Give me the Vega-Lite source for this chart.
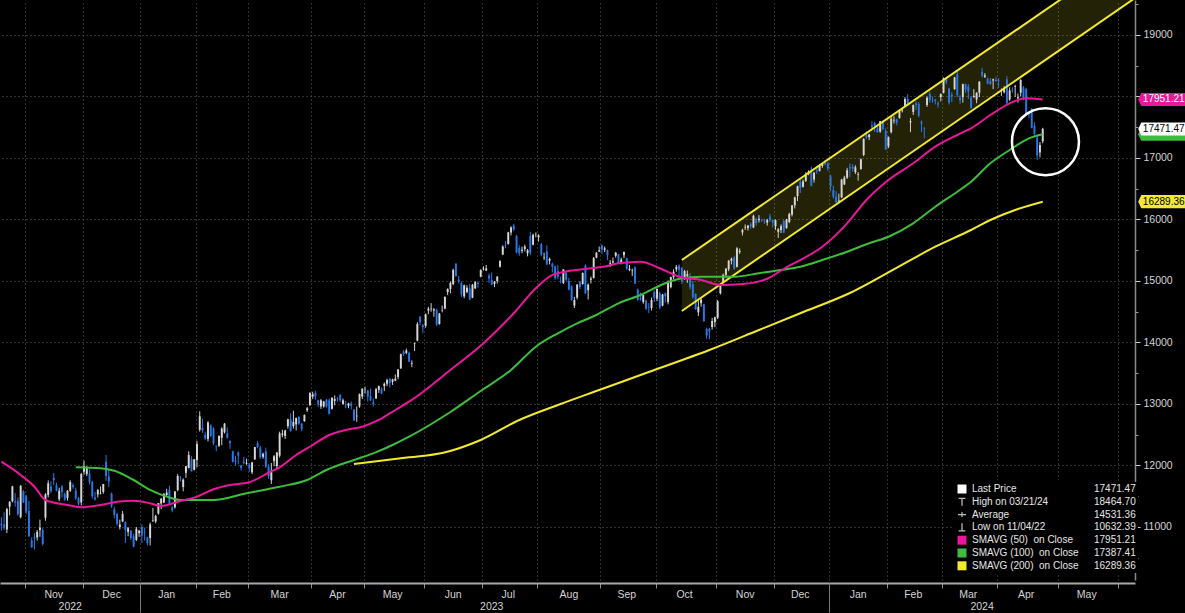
{
"$schema":"https://vega.github.io/schema/vega-lite/v6.json",
"width":1135,"height":580,
"autosize":{"type":"none"},
"padding":{"left":0,"top":0,"right":50,"bottom":33},
"background":"#000000",
"config":{"view":{"stroke":null}},
"datasets":{
"ohlc":[
{"d":"2022-10-19","o":11050,"h":11160,"l":10940,"c":11030},{"d":"2022-10-20","o":11040,"h":11240,"l":10950,"c":10990},{"d":"2022-10-21","o":10960,"h":11310,"l":10900,"c":11290},{"d":"2022-10-24","o":11330,"h":11420,"l":11190,"c":11410},{"d":"2022-10-25","o":11420,"h":11670,"l":11400,"c":11660},{"d":"2022-10-26","o":11420,"h":11550,"l":11330,"c":11400},{"d":"2022-10-27","o":11420,"h":11480,"l":11180,"c":11210},{"d":"2022-10-28","o":11160,"h":11680,"l":11140,"c":11670},{"d":"2022-10-31","o":11580,"h":11600,"l":11390,"c":11400},
{"d":"2022-11-01","o":11500,"h":11520,"l":11210,"c":11250},{"d":"2022-11-02","o":11260,"h":11420,"l":10840,"c":10850},{"d":"2022-11-03","o":10780,"h":10830,"l":10660,"c":10670},{"d":"2022-11-04","o":10830,"h":10900,"l":10632.39,"c":10810},{"d":"2022-11-07","o":10830,"h":10950,"l":10780,"c":10920},{"d":"2022-11-08","o":10950,"h":11120,"l":10840,"c":10990},{"d":"2022-11-09","o":10950,"h":10980,"l":10700,"c":10720},{"d":"2022-11-10","o":11150,"h":11550,"l":11100,"c":11530},{"d":"2022-11-11","o":11520,"h":11760,"l":11480,"c":11710},{"d":"2022-11-14","o":11660,"h":11740,"l":11550,"c":11580},{"d":"2022-11-15","o":11800,"h":11880,"l":11680,"c":11760},{"d":"2022-11-16","o":11680,"h":11720,"l":11580,"c":11590},{"d":"2022-11-17","o":11450,"h":11640,"l":11420,"c":11590},{"d":"2022-11-18","o":11660,"h":11680,"l":11480,"c":11570},{"d":"2022-11-21","o":11540,"h":11560,"l":11420,"c":11450},{"d":"2022-11-22","o":11470,"h":11600,"l":11430,"c":11590},{"d":"2022-11-23","o":11590,"h":11760,"l":11570,"c":11730},{"d":"2022-11-25","o":11680,"h":11710,"l":11620,"c":11650},{"d":"2022-11-28","o":11590,"h":11640,"l":11440,"c":11470},{"d":"2022-11-29","o":11470,"h":11490,"l":11350,"c":11380},{"d":"2022-11-30","o":11400,"h":11880,"l":11350,"c":11860},
{"d":"2022-12-01","o":11900,"h":12080,"l":11850,"c":11990},{"d":"2022-12-02","o":11860,"h":11990,"l":11830,"c":11960},{"d":"2022-12-05","o":11870,"h":11940,"l":11690,"c":11730},{"d":"2022-12-06","o":11730,"h":11750,"l":11460,"c":11500},{"d":"2022-12-07","o":11480,"h":11570,"l":11430,"c":11450},{"d":"2022-12-08","o":11530,"h":11620,"l":11480,"c":11600},{"d":"2022-12-09","o":11540,"h":11660,"l":11530,"c":11550},{"d":"2022-12-12","o":11570,"h":11700,"l":11540,"c":11700},{"d":"2022-12-13","o":12060,"h":12170,"l":11750,"c":11830},{"d":"2022-12-14","o":11820,"h":11940,"l":11650,"c":11740},{"d":"2022-12-15","o":11540,"h":11560,"l":11310,"c":11340},{"d":"2022-12-16","o":11290,"h":11330,"l":11140,"c":11200},{"d":"2022-12-19","o":11210,"h":11230,"l":11020,"c":11050},{"d":"2022-12-20","o":11000,"h":11120,"l":10960,"c":11040},{"d":"2022-12-21","o":11090,"h":11260,"l":11080,"c":11210},{"d":"2022-12-22","o":11080,"h":11090,"l":10740,"c":10950},{"d":"2022-12-23","o":10920,"h":11000,"l":10850,"c":10980},{"d":"2022-12-27","o":10940,"h":10950,"l":10790,"c":10820},{"d":"2022-12-28","o":10850,"h":10890,"l":10670,"c":10680},{"d":"2022-12-29","o":10790,"h":11000,"l":10770,"c":10970},{"d":"2022-12-30","o":10900,"h":10950,"l":10840,"c":10940},
{"d":"2023-01-03","o":11000,"h":11040,"l":10740,"c":10860},{"d":"2023-01-04","o":10920,"h":10990,"l":10780,"c":10910},{"d":"2023-01-05","o":10830,"h":10840,"l":10700,"c":10740},{"d":"2023-01-06","o":10820,"h":11070,"l":10700,"c":11040},{"d":"2023-01-09","o":11100,"h":11310,"l":11080,"c":11110},{"d":"2023-01-10","o":11090,"h":11200,"l":11060,"c":11180},{"d":"2023-01-11","o":11220,"h":11390,"l":11200,"c":11390},{"d":"2023-01-12","o":11380,"h":11470,"l":11290,"c":11460},{"d":"2023-01-13","o":11400,"h":11550,"l":11390,"c":11540},{"d":"2023-01-17","o":11520,"h":11620,"l":11500,"c":11560},{"d":"2023-01-18","o":11600,"h":11670,"l":11370,"c":11380},{"d":"2023-01-19","o":11320,"h":11340,"l":11240,"c":11270},{"d":"2023-01-20","o":11320,"h":11580,"l":11300,"c":11580},{"d":"2023-01-23","o":11600,"h":11860,"l":11580,"c":11830},{"d":"2023-01-24","o":11800,"h":11830,"l":11740,"c":11790},{"d":"2023-01-25","o":11650,"h":11790,"l":11580,"c":11770},{"d":"2023-01-26","o":11880,"h":11990,"l":11800,"c":11990},{"d":"2023-01-27","o":11960,"h":12230,"l":11950,"c":12170},{"d":"2023-01-30","o":12100,"h":12150,"l":11900,"c":11910},{"d":"2023-01-31","o":11930,"h":12100,"l":11920,"c":12100},
{"d":"2023-02-01","o":12090,"h":12400,"l":11970,"c":12350},{"d":"2023-02-02","o":12580,"h":12880,"l":12550,"c":12800},{"d":"2023-02-03","o":12610,"h":12760,"l":12530,"c":12570},{"d":"2023-02-06","o":12500,"h":12550,"l":12420,"c":12440},{"d":"2023-02-07","o":12430,"h":12720,"l":12390,"c":12700},{"d":"2023-02-08","o":12650,"h":12670,"l":12460,"c":12480},{"d":"2023-02-09","o":12600,"h":12620,"l":12330,"c":12360},{"d":"2023-02-10","o":12310,"h":12330,"l":12230,"c":12300},{"d":"2023-02-13","o":12320,"h":12490,"l":12300,"c":12480},{"d":"2023-02-14","o":12450,"h":12620,"l":12330,"c":12600},{"d":"2023-02-15","o":12540,"h":12690,"l":12520,"c":12680},{"d":"2023-02-16","o":12520,"h":12620,"l":12440,"c":12450},{"d":"2023-02-17","o":12400,"h":12410,"l":12270,"c":12360},{"d":"2023-02-21","o":12230,"h":12240,"l":12050,"c":12060},{"d":"2023-02-22","o":12080,"h":12160,"l":12000,"c":12060},{"d":"2023-02-23","o":12210,"h":12230,"l":12020,"c":12160},{"d":"2023-02-24","o":12000,"h":12010,"l":11920,"c":11960},{"d":"2023-02-27","o":12060,"h":12140,"l":12020,"c":12040},{"d":"2023-02-28","o":12030,"h":12110,"l":12010,"c":12040},
{"d":"2023-03-01","o":12010,"h":12040,"l":11900,"c":11960},{"d":"2023-03-02","o":11890,"h":12060,"l":11860,"c":12050},{"d":"2023-03-03","o":12100,"h":12300,"l":12090,"c":12300},{"d":"2023-03-06","o":12360,"h":12400,"l":12280,"c":12300},{"d":"2023-03-07","o":12290,"h":12320,"l":12110,"c":12130},{"d":"2023-03-08","o":12140,"h":12210,"l":12110,"c":12190},{"d":"2023-03-09","o":12230,"h":12290,"l":11960,"c":11980},{"d":"2023-03-10","o":11980,"h":12020,"l":11780,"c":11830},{"d":"2023-03-13","o":11760,"h":12040,"l":11700,"c":11890},{"d":"2023-03-14","o":12070,"h":12170,"l":11990,"c":12150},{"d":"2023-03-15","o":11990,"h":12220,"l":11940,"c":12210},{"d":"2023-03-16","o":12160,"h":12550,"l":12130,"c":12520},{"d":"2023-03-17","o":12500,"h":12580,"l":12460,"c":12520},{"d":"2023-03-20","o":12480,"h":12580,"l":12430,"c":12570},{"d":"2023-03-21","o":12640,"h":12760,"l":12600,"c":12750},{"d":"2023-03-22","o":12750,"h":12850,"l":12550,"c":12560},{"d":"2023-03-23","o":12640,"h":12890,"l":12600,"c":12710},{"d":"2023-03-24","o":12670,"h":12780,"l":12570,"c":12770},{"d":"2023-03-27","o":12790,"h":12800,"l":12660,"c":12680},{"d":"2023-03-28","o":12680,"h":12690,"l":12560,"c":12590},{"d":"2023-03-29","o":12720,"h":12830,"l":12710,"c":12820},{"d":"2023-03-30","o":12900,"h":12950,"l":12870,"c":12930},{"d":"2023-03-31","o":12980,"h":13190,"l":12970,"c":13180},
{"d":"2023-04-03","o":13120,"h":13200,"l":13080,"c":13160},{"d":"2023-04-04","o":13180,"h":13220,"l":13070,"c":13120},{"d":"2023-04-05","o":13060,"h":13070,"l":12950,"c":12990},{"d":"2023-04-06","o":12960,"h":13080,"l":12920,"c":13060},{"d":"2023-04-10","o":12960,"h":13050,"l":12940,"c":13040},{"d":"2023-04-11","o":13070,"h":13080,"l":12940,"c":12960},{"d":"2023-04-12","o":13060,"h":13090,"l":12830,"c":12840},{"d":"2023-04-13","o":12920,"h":13110,"l":12910,"c":13100},{"d":"2023-04-14","o":13050,"h":13140,"l":12980,"c":13080},{"d":"2023-04-17","o":13090,"h":13110,"l":13040,"c":13080},{"d":"2023-04-18","o":13150,"h":13160,"l":13030,"c":13060},{"d":"2023-04-19","o":13000,"h":13090,"l":12990,"c":13060},{"d":"2023-04-20","o":12970,"h":13050,"l":12930,"c":12960},{"d":"2023-04-21","o":12970,"h":13020,"l":12930,"c":13010},{"d":"2023-04-24","o":13010,"h":13040,"l":12910,"c":12970},{"d":"2023-04-25","o":12910,"h":12920,"l":12720,"c":12730},{"d":"2023-04-26","o":12800,"h":12960,"l":12710,"c":12810},{"d":"2023-04-27","o":12960,"h":13170,"l":12940,"c":13160},{"d":"2023-04-28","o":13120,"h":13250,"l":13080,"c":13250},
{"d":"2023-05-01","o":13230,"h":13280,"l":13170,"c":13235},{"d":"2023-05-02","o":13220,"h":13230,"l":13040,"c":13120},{"d":"2023-05-03","o":13130,"h":13250,"l":13050,"c":13060},{"d":"2023-05-04","o":13030,"h":13090,"l":12960,"c":13000},{"d":"2023-05-05","o":13090,"h":13260,"l":13080,"c":13240},{"d":"2023-05-08","o":13230,"h":13300,"l":13180,"c":13290},{"d":"2023-05-09","o":13240,"h":13270,"l":13160,"c":13170},{"d":"2023-05-10","o":13290,"h":13350,"l":13210,"c":13330},{"d":"2023-05-11","o":13330,"h":13410,"l":13290,"c":13390},{"d":"2023-05-12","o":13410,"h":13420,"l":13270,"c":13340},{"d":"2023-05-15","o":13360,"h":13410,"l":13310,"c":13400},{"d":"2023-05-16","o":13380,"h":13480,"l":13370,"c":13410},{"d":"2023-05-17","o":13440,"h":13570,"l":13400,"c":13560},{"d":"2023-05-18","o":13580,"h":13820,"l":13570,"c":13810},{"d":"2023-05-19","o":13850,"h":13880,"l":13780,"c":13810},{"d":"2023-05-22","o":13830,"h":13900,"l":13810,"c":13870},{"d":"2023-05-23","o":13830,"h":13850,"l":13680,"c":13690},{"d":"2023-05-24","o":13650,"h":13710,"l":13600,"c":13660},{"d":"2023-05-25","o":13980,"h":14000,"l":13860,"c":13990},{"d":"2023-05-26","o":14030,"h":14330,"l":14020,"c":14300},{"d":"2023-05-30","o":14420,"h":14430,"l":14280,"c":14330},{"d":"2023-05-31","o":14280,"h":14300,"l":14150,"c":14250},
{"d":"2023-06-01","o":14270,"h":14470,"l":14240,"c":14460},{"d":"2023-06-02","o":14520,"h":14580,"l":14460,"c":14550},{"d":"2023-06-05","o":14540,"h":14640,"l":14500,"c":14550},{"d":"2023-06-06","o":14520,"h":14560,"l":14420,"c":14540},{"d":"2023-06-07","o":14530,"h":14550,"l":14270,"c":14290},{"d":"2023-06-08","o":14300,"h":14480,"l":14290,"c":14470},{"d":"2023-06-09","o":14520,"h":14600,"l":14490,"c":14525},{"d":"2023-06-12","o":14550,"h":14750,"l":14540,"c":14740},{"d":"2023-06-13","o":14820,"h":14880,"l":14770,"c":14870},{"d":"2023-06-14","o":14870,"h":14990,"l":14800,"c":14970},{"d":"2023-06-15","o":14950,"h":15200,"l":14930,"c":15180},{"d":"2023-06-16","o":15280,"h":15290,"l":15070,"c":15080},{"d":"2023-06-20","o":15020,"h":15080,"l":14960,"c":14990},{"d":"2023-06-21","o":14970,"h":14990,"l":14740,"c":14780},{"d":"2023-06-22","o":14750,"h":14940,"l":14720,"c":14930},{"d":"2023-06-23","o":14820,"h":14930,"l":14800,"c":14890},{"d":"2023-06-26","o":14880,"h":14950,"l":14690,"c":14700},{"d":"2023-06-27","o":14730,"h":14950,"l":14720,"c":14940},{"d":"2023-06-28","o":14880,"h":15000,"l":14870,"c":14980},{"d":"2023-06-29","o":14970,"h":14990,"l":14890,"c":14950},{"d":"2023-06-30","o":15070,"h":15190,"l":15060,"c":15180},
{"d":"2023-07-03","o":15190,"h":15240,"l":15170,"c":15200},{"d":"2023-07-05","o":15170,"h":15260,"l":15160,"c":15205},{"d":"2023-07-06","o":15090,"h":15120,"l":14970,"c":15040},{"d":"2023-07-07","o":15020,"h":15140,"l":14930,"c":14940},{"d":"2023-07-10","o":14950,"h":15000,"l":14900,"c":14990},{"d":"2023-07-11","o":15000,"h":15080,"l":14960,"c":15070},{"d":"2023-07-12","o":15230,"h":15340,"l":15220,"c":15320},{"d":"2023-07-13","o":15430,"h":15580,"l":15420,"c":15560},{"d":"2023-07-14","o":15580,"h":15650,"l":15530,"c":15570},{"d":"2023-07-17","o":15600,"h":15800,"l":15590,"c":15790},{"d":"2023-07-18","o":15790,"h":15890,"l":15740,"c":15870},{"d":"2023-07-19","o":15900,"h":15930,"l":15810,"c":15840},{"d":"2023-07-20","o":15730,"h":15750,"l":15450,"c":15470},{"d":"2023-07-21","o":15540,"h":15580,"l":15410,"c":15450},{"d":"2023-07-24","o":15490,"h":15560,"l":15450,"c":15510},{"d":"2023-07-25","o":15520,"h":15590,"l":15480,"c":15560},{"d":"2023-07-26","o":15450,"h":15520,"l":15400,"c":15500},{"d":"2023-07-27","o":15730,"h":15800,"l":15420,"c":15460},{"d":"2023-07-28","o":15590,"h":15770,"l":15580,"c":15750},{"d":"2023-07-31","o":15760,"h":15790,"l":15710,"c":15765},
{"d":"2023-08-01","o":15710,"h":15760,"l":15640,"c":15740},{"d":"2023-08-02","o":15600,"h":15620,"l":15400,"c":15430},{"d":"2023-08-03","o":15380,"h":15460,"l":15340,"c":15390},{"d":"2023-08-04","o":15480,"h":15580,"l":15260,"c":15270},{"d":"2023-08-07","o":15330,"h":15380,"l":15270,"c":15360},{"d":"2023-08-08","o":15280,"h":15300,"l":15140,"c":15230},{"d":"2023-08-09","o":15240,"h":15250,"l":15020,"c":15050},{"d":"2023-08-10","o":15160,"h":15260,"l":15030,"c":15070},{"d":"2023-08-11","o":14990,"h":15070,"l":14960,"c":14980},{"d":"2023-08-14","o":14970,"h":15190,"l":14950,"c":15190},{"d":"2023-08-15","o":15140,"h":15160,"l":15000,"c":15020},{"d":"2023-08-16","o":15000,"h":15050,"l":14850,"c":14860},{"d":"2023-08-17","o":14910,"h":14930,"l":14680,"c":14690},{"d":"2023-08-18","o":14600,"h":14740,"l":14560,"c":14690},{"d":"2023-08-21","o":14730,"h":14950,"l":14700,"c":14940},{"d":"2023-08-22","o":14990,"h":15000,"l":14870,"c":14900},{"d":"2023-08-23","o":14950,"h":15140,"l":14940,"c":15130},{"d":"2023-08-24","o":15250,"h":15270,"l":14790,"c":14800},{"d":"2023-08-25","o":14850,"h":14960,"l":14700,"c":14940},{"d":"2023-08-28","o":15020,"h":15070,"l":14960,"c":15040},{"d":"2023-08-29","o":15050,"h":15390,"l":15040,"c":15370},{"d":"2023-08-30","o":15380,"h":15470,"l":15370,"c":15460},{"d":"2023-08-31","o":15480,"h":15560,"l":15470,"c":15500},
{"d":"2023-09-01","o":15580,"h":15590,"l":15440,"c":15510},{"d":"2023-09-05","o":15510,"h":15560,"l":15470,"c":15530},{"d":"2023-09-06","o":15500,"h":15510,"l":15340,"c":15420},{"d":"2023-09-07","o":15270,"h":15340,"l":15230,"c":15290},{"d":"2023-09-08","o":15300,"h":15380,"l":15280,"c":15320},{"d":"2023-09-11","o":15410,"h":15470,"l":15380,"c":15460},{"d":"2023-09-12","o":15430,"h":15440,"l":15280,"c":15290},{"d":"2023-09-13","o":15310,"h":15380,"l":15270,"c":15350},{"d":"2023-09-14","o":15420,"h":15480,"l":15370,"c":15470},{"d":"2023-09-15","o":15370,"h":15380,"l":15180,"c":15200},{"d":"2023-09-18","o":15180,"h":15260,"l":15160,"c":15200},{"d":"2023-09-19","o":15170,"h":15200,"l":15080,"c":15180},{"d":"2023-09-20","o":15220,"h":15240,"l":14950,"c":14960},{"d":"2023-09-21","o":14860,"h":14880,"l":14680,"c":14690},{"d":"2023-09-22","o":14720,"h":14810,"l":14680,"c":14700},{"d":"2023-09-25","o":14660,"h":14780,"l":14630,"c":14770},{"d":"2023-09-26","o":14680,"h":14700,"l":14530,"c":14550},{"d":"2023-09-27","o":14580,"h":14640,"l":14480,"c":14570},{"d":"2023-09-28","o":14560,"h":14730,"l":14520,"c":14690},{"d":"2023-09-29","o":14820,"h":14850,"l":14660,"c":14720},
{"d":"2023-10-02","o":14710,"h":14880,"l":14670,"c":14870},{"d":"2023-10-03","o":14800,"h":14830,"l":14540,"c":14570},{"d":"2023-10-04","o":14600,"h":14790,"l":14590,"c":14780},{"d":"2023-10-05","o":14800,"h":14810,"l":14650,"c":14750},{"d":"2023-10-06","o":14660,"h":15010,"l":14620,"c":14980},{"d":"2023-10-09","o":14900,"h":15070,"l":14880,"c":15065},{"d":"2023-10-10","o":15060,"h":15190,"l":15030,"c":15150},{"d":"2023-10-11","o":15190,"h":15260,"l":15150,"c":15230},{"d":"2023-10-12","o":15250,"h":15270,"l":15080,"c":15180},{"d":"2023-10-13","o":15210,"h":15230,"l":14950,"c":14990},{"d":"2023-10-16","o":15030,"h":15180,"l":15020,"c":15160},{"d":"2023-10-17","o":15080,"h":15170,"l":14970,"c":15110},{"d":"2023-10-18","o":15070,"h":15130,"l":14860,"c":14900},{"d":"2023-10-19","o":14950,"h":15000,"l":14710,"c":14740},{"d":"2023-10-20","o":14790,"h":14800,"l":14530,"c":14540},{"d":"2023-10-23","o":14490,"h":14680,"l":14430,"c":14580},{"d":"2023-10-24","o":14640,"h":14720,"l":14580,"c":14700},{"d":"2023-10-25","o":14620,"h":14630,"l":14330,"c":14350},{"d":"2023-10-26","o":14220,"h":14240,"l":14060,"c":14110},{"d":"2023-10-27","o":14220,"h":14240,"l":14050,"c":14180},{"d":"2023-10-30","o":14250,"h":14400,"l":14210,"c":14350},{"d":"2023-10-31","o":14330,"h":14420,"l":14250,"c":14410},
{"d":"2023-11-01","o":14400,"h":14690,"l":14380,"c":14670},{"d":"2023-11-02","o":14800,"h":14930,"l":14780,"c":14920},{"d":"2023-11-03","o":14980,"h":15120,"l":14960,"c":15100},{"d":"2023-11-06","o":15100,"h":15210,"l":15070,"c":15200},{"d":"2023-11-07","o":15190,"h":15340,"l":15160,"c":15330},{"d":"2023-11-08","o":15330,"h":15380,"l":15270,"c":15360},{"d":"2023-11-09","o":15380,"h":15410,"l":15180,"c":15200},{"d":"2023-11-10","o":15230,"h":15550,"l":15220,"c":15530},{"d":"2023-11-13","o":15470,"h":15530,"l":15440,"c":15490},{"d":"2023-11-14","o":15790,"h":15850,"l":15740,"c":15830},{"d":"2023-11-15","o":15870,"h":15920,"l":15830,"c":15880},{"d":"2023-11-16","o":15860,"h":15910,"l":15820,"c":15900},{"d":"2023-11-17","o":15920,"h":15950,"l":15850,"c":15890},{"d":"2023-11-20","o":15870,"h":16080,"l":15860,"c":16060},{"d":"2023-11-21","o":16010,"h":16030,"l":15900,"c":15940},{"d":"2023-11-22","o":15990,"h":16070,"l":15950,"c":16010},{"d":"2023-11-24","o":15990,"h":16010,"l":15960,"c":15980},{"d":"2023-11-27","o":15970,"h":16010,"l":15930,"c":15960},{"d":"2023-11-28","o":15950,"h":16010,"l":15900,"c":15990},{"d":"2023-11-29","o":16050,"h":16090,"l":15960,"c":15990},{"d":"2023-11-30","o":15990,"h":16000,"l":15870,"c":15950},
{"d":"2023-12-01","o":15890,"h":16000,"l":15830,"c":15990},{"d":"2023-12-04","o":15800,"h":15860,"l":15700,"c":15840},{"d":"2023-12-05","o":15830,"h":15920,"l":15780,"c":15890},{"d":"2023-12-06","o":15980,"h":15990,"l":15780,"c":15790},{"d":"2023-12-07","o":15860,"h":16010,"l":15850,"c":16000},{"d":"2023-12-08","o":15960,"h":16110,"l":15940,"c":16090},{"d":"2023-12-11","o":16080,"h":16230,"l":16050,"c":16230},{"d":"2023-12-12","o":16230,"h":16370,"l":16180,"c":16360},{"d":"2023-12-13","o":16380,"h":16550,"l":16300,"c":16540},{"d":"2023-12-14","o":16610,"h":16660,"l":16430,"c":16510},{"d":"2023-12-15","o":16530,"h":16650,"l":16520,"c":16620},{"d":"2023-12-18","o":16630,"h":16770,"l":16610,"c":16730},{"d":"2023-12-19","o":16740,"h":16800,"l":16720,"c":16780},{"d":"2023-12-20","o":16800,"h":16860,"l":16540,"c":16550},{"d":"2023-12-21","o":16650,"h":16770,"l":16600,"c":16760},{"d":"2023-12-22","o":16800,"h":16860,"l":16740,"c":16780},{"d":"2023-12-26","o":16790,"h":16900,"l":16780,"c":16870},{"d":"2023-12-27","o":16870,"h":16910,"l":16840,"c":16900},{"d":"2023-12-28","o":16920,"h":16970,"l":16880,"c":16900},{"d":"2023-12-29","o":16910,"h":16940,"l":16790,"c":16830},
{"d":"2024-01-02","o":16700,"h":16730,"l":16460,"c":16540},{"d":"2024-01-03","o":16480,"h":16550,"l":16340,"c":16370},{"d":"2024-01-04","o":16370,"h":16460,"l":16270,"c":16280},{"d":"2024-01-05","o":16290,"h":16420,"l":16260,"c":16310},{"d":"2024-01-08","o":16360,"h":16660,"l":16350,"c":16650},{"d":"2024-01-09","o":16570,"h":16710,"l":16560,"c":16680},{"d":"2024-01-10","o":16680,"h":16840,"l":16660,"c":16800},{"d":"2024-01-11","o":16850,"h":16910,"l":16690,"c":16830},{"d":"2024-01-12","o":16860,"h":16900,"l":16780,"c":16830},{"d":"2024-01-16","o":16770,"h":16880,"l":16740,"c":16850},{"d":"2024-01-17","o":16730,"h":16770,"l":16630,"c":16740},{"d":"2024-01-18","o":16820,"h":16990,"l":16810,"c":16980},{"d":"2024-01-19","o":17050,"h":17320,"l":17030,"c":17310},{"d":"2024-01-22","o":17370,"h":17430,"l":17310,"c":17330},{"d":"2024-01-23","o":17340,"h":17390,"l":17290,"c":17380},{"d":"2024-01-24","o":17530,"h":17600,"l":17480,"c":17500},{"d":"2024-01-25","o":17570,"h":17590,"l":17420,"c":17520},{"d":"2024-01-26","o":17480,"h":17530,"l":17410,"c":17420},{"d":"2024-01-29","o":17430,"h":17600,"l":17410,"c":17600},{"d":"2024-01-30","o":17580,"h":17610,"l":17450,"c":17470},{"d":"2024-01-31","o":17440,"h":17480,"l":17130,"c":17140},
{"d":"2024-02-01","o":17190,"h":17350,"l":17160,"c":17340},{"d":"2024-02-02","o":17420,"h":17680,"l":17400,"c":17640},{"d":"2024-02-05","o":17610,"h":17680,"l":17560,"c":17620},{"d":"2024-02-06","o":17630,"h":17640,"l":17530,"c":17570},{"d":"2024-02-07","o":17650,"h":17790,"l":17640,"c":17770},{"d":"2024-02-08","o":17770,"h":17810,"l":17740,"c":17780},{"d":"2024-02-09","o":17850,"h":17990,"l":17840,"c":17960},{"d":"2024-02-12","o":17960,"h":18040,"l":17850,"c":17880},{"d":"2024-02-13","o":17580,"h":17650,"l":17420,"c":17600},{"d":"2024-02-14","o":17750,"h":17870,"l":17700,"c":17860},{"d":"2024-02-15","o":17890,"h":17920,"l":17780,"c":17860},{"d":"2024-02-16","o":17880,"h":17910,"l":17660,"c":17690},{"d":"2024-02-20","o":17590,"h":17610,"l":17420,"c":17560},{"d":"2024-02-21","o":17490,"h":17500,"l":17320,"c":17480},{"d":"2024-02-22","o":17860,"h":18000,"l":17830,"c":17980},{"d":"2024-02-23","o":18040,"h":18080,"l":17900,"c":17940},{"d":"2024-02-26","o":17930,"h":18000,"l":17900,"c":17920},{"d":"2024-02-27","o":17950,"h":17960,"l":17870,"c":17930},{"d":"2024-02-28","o":17890,"h":17920,"l":17820,"c":17870},{"d":"2024-02-29","o":17990,"h":18050,"l":17920,"c":18040},
{"d":"2024-03-01","o":18060,"h":18310,"l":18050,"c":18300},{"d":"2024-03-04","o":18280,"h":18300,"l":18200,"c":18230},{"d":"2024-03-05","o":18130,"h":18140,"l":17870,"c":17900},{"d":"2024-03-06","o":18030,"h":18070,"l":17910,"c":18000},{"d":"2024-03-07","o":18120,"h":18320,"l":18110,"c":18310},{"d":"2024-03-08","o":18360,"h":18420,"l":17990,"c":18020},{"d":"2024-03-11","o":17980,"h":18020,"l":17880,"c":17940},{"d":"2024-03-12","o":17990,"h":18210,"l":17900,"c":18200},{"d":"2024-03-13","o":18200,"h":18210,"l":18060,"c":18110},{"d":"2024-03-14","o":18160,"h":18200,"l":17960,"c":18080},{"d":"2024-03-15","o":17980,"h":18010,"l":17800,"c":17810},{"d":"2024-03-18","o":17990,"h":18120,"l":17980,"c":18010},{"d":"2024-03-19","o":17950,"h":18070,"l":17890,"c":18060},{"d":"2024-03-20","o":18060,"h":18250,"l":17990,"c":18240},{"d":"2024-03-21","o":18400,"h":18464.7,"l":18310,"c":18340},{"d":"2024-03-22","o":18320,"h":18380,"l":18300,"c":18345},{"d":"2024-03-25","o":18290,"h":18310,"l":18200,"c":18210},{"d":"2024-03-26","o":18250,"h":18300,"l":18190,"c":18200},{"d":"2024-03-27","o":18260,"h":18290,"l":18120,"c":18280},{"d":"2024-03-28","o":18270,"h":18320,"l":18240,"c":18250},
{"d":"2024-04-01","o":18260,"h":18300,"l":18140,"c":18250},{"d":"2024-04-02","o":18090,"h":18130,"l":18010,"c":18100},{"d":"2024-04-03","o":18070,"h":18170,"l":18050,"c":18130},{"d":"2024-04-04","o":18280,"h":18330,"l":17880,"c":17890},{"d":"2024-04-05","o":17950,"h":18150,"l":17930,"c":18100},{"d":"2024-04-08","o":18110,"h":18150,"l":18060,"c":18100},{"d":"2024-04-09","o":18160,"h":18190,"l":17990,"c":18170},{"d":"2024-04-10","o":17970,"h":18050,"l":17900,"c":17990},{"d":"2024-04-11","o":18060,"h":18280,"l":18000,"c":18270},{"d":"2024-04-12","o":18150,"h":18170,"l":17940,"c":17970},{"d":"2024-04-15","o":18120,"h":18140,"l":17690,"c":17710},{"d":"2024-04-16","o":17720,"h":17760,"l":17650,"c":17710},{"d":"2024-04-17","o":17800,"h":17810,"l":17480,"c":17490},{"d":"2024-04-18","o":17520,"h":17580,"l":17360,"c":17390},{"d":"2024-04-19","o":17330,"h":17380,"l":16970,"c":17040},{"d":"2024-04-22","o":17090,"h":17260,"l":17010,"c":17210},{"d":"2024-04-23","o":17270,"h":17490,"l":17240,"c":17471.47}
],
"cal":[{"d":"2024-04-24"},{"d":"2024-04-25"},{"d":"2024-04-26"},{"d":"2024-04-29"},{"d":"2024-04-30"},{"d":"2024-05-01"},{"d":"2024-05-02"},{"d":"2024-05-03"},{"d":"2024-05-06"},{"d":"2024-05-07"},{"d":"2024-05-08"},{"d":"2024-05-09"},{"d":"2024-05-10"},{"d":"2024-05-13"},{"d":"2024-05-14"},{"d":"2024-05-15"},{"d":"2024-05-16"},{"d":"2024-05-17"},{"d":"2024-05-20"},{"d":"2024-05-21"},{"d":"2024-05-22"},{"d":"2024-05-23"},{"d":"2024-05-24"},{"d":"2024-05-28"},{"d":"2024-05-29"},{"d":"2024-05-30"},{"d":"2024-05-31"},{"d":"2024-06-03"},{"d":"2024-06-04"},{"d":"2024-06-05"},{"d":"2024-06-06"},{"d":"2024-06-07"},{"d":"2024-06-10"}],
"s50":[{"d":"2022-10-19","v":12062},{"d":"2022-10-28","v":11846},{"d":"2022-11-04","v":11655},{"d":"2022-11-10","v":11439},{"d":"2022-11-22","v":11358},{"d":"2022-11-30","v":11320},{"d":"2022-12-09","v":11358},{"d":"2022-12-19","v":11411},{"d":"2022-12-28","v":11428},{"d":"2023-01-06","v":11385},{"d":"2023-01-12","v":11342},{"d":"2023-01-24","v":11423},{"d":"2023-02-01","v":11493},{"d":"2023-02-09","v":11613},{"d":"2023-02-17","v":11683},{"d":"2023-03-01","v":11727},{"d":"2023-03-10","v":11883},{"d":"2023-03-16","v":11971},{"d":"2023-03-24","v":12171},{"d":"2023-04-03","v":12333},{"d":"2023-04-12","v":12496},{"d":"2023-04-20","v":12577},{"d":"2023-04-28","v":12631},{"d":"2023-05-08","v":12740},{"d":"2023-05-16","v":12902},{"d":"2023-05-23","v":13037},{"d":"2023-06-14","v":13553},{"d":"2023-07-03","v":13987},{"d":"2023-07-19","v":14475},{"d":"2023-07-31","v":14881},{"d":"2023-08-08","v":15098},{"d":"2023-08-16","v":15163},{"d":"2023-08-28","v":15207},{"d":"2023-09-06","v":15244},{"d":"2023-09-12","v":15288},{"d":"2023-09-22","v":15314},{"d":"2023-10-03","v":15207},{"d":"2023-10-12","v":15070},{"d":"2023-10-24","v":15016},{"d":"2023-11-02","v":14935},{"d":"2023-11-14","v":14951},{"d":"2023-11-28","v":15037},{"d":"2023-12-07","v":15223},{"d":"2023-12-14","v":15341},{"d":"2023-12-27","v":15558},{"d":"2024-01-10","v":15938},{"d":"2024-01-22","v":16317},{"d":"2024-02-01","v":16642},{"d":"2024-02-14","v":16914},{"d":"2024-02-27","v":17184},{"d":"2024-03-08","v":17374},{"d":"2024-03-15","v":17483},{"d":"2024-03-26","v":17699},{"d":"2024-04-05","v":17889},{"d":"2024-04-15","v":17971},{"d":"2024-04-23","v":17951.21}],
"s100":[{"d":"2022-11-28","v":11971},{"d":"2022-12-09","v":11955},{"d":"2022-12-16","v":11915},{"d":"2022-12-28","v":11764},{"d":"2023-01-06","v":11602},{"d":"2023-01-17","v":11493},{"d":"2023-01-24","v":11439},{"d":"2023-02-09","v":11439},{"d":"2023-02-28","v":11548},{"d":"2023-03-16","v":11655},{"d":"2023-03-30","v":11764},{"d":"2023-04-11","v":11927},{"d":"2023-04-25","v":12089},{"d":"2023-05-04","v":12198},{"d":"2023-05-15","v":12333},{"d":"2023-05-23","v":12468},{"d":"2023-06-14","v":12870},{"d":"2023-06-30","v":13211},{"d":"2023-07-18","v":13553},{"d":"2023-07-31","v":13932},{"d":"2023-08-10","v":14150},{"d":"2023-08-21","v":14312},{"d":"2023-08-30","v":14447},{"d":"2023-09-12","v":14637},{"d":"2023-09-22","v":14772},{"d":"2023-10-05","v":14963},{"d":"2023-10-13","v":15044},{"d":"2023-10-24","v":15070},{"d":"2023-11-09","v":15070},{"d":"2023-11-22","v":15125},{"d":"2023-12-05","v":15179},{"d":"2023-12-14","v":15233},{"d":"2023-12-27","v":15341},{"d":"2024-01-10","v":15476},{"d":"2024-01-23","v":15613},{"d":"2024-02-01","v":15720},{"d":"2024-02-14","v":15938},{"d":"2024-02-27","v":16208},{"d":"2024-03-08","v":16452},{"d":"2024-03-15","v":16615},{"d":"2024-03-26","v":16914},{"d":"2024-04-05","v":17130},{"d":"2024-04-16","v":17320},{"d":"2024-04-23","v":17387.41}],
"s200":[{"d":"2023-04-25","v":12024},{"d":"2023-05-23","v":12133},{"d":"2023-06-09","v":12203},{"d":"2023-06-30","v":12415},{"d":"2023-07-21","v":12740},{"d":"2023-08-11","v":13000},{"d":"2023-08-31","v":13228},{"d":"2023-09-27","v":13520},{"d":"2023-10-27","v":13878},{"d":"2023-11-22","v":14203},{"d":"2023-12-14","v":14475},{"d":"2024-01-11","v":14805},{"d":"2024-02-13","v":15341},{"d":"2024-02-27","v":15558},{"d":"2024-03-15","v":15829},{"d":"2024-03-26","v":15992},{"d":"2024-04-09","v":16155},{"d":"2024-04-23","v":16289.36}],
"chan":[{"d":"2023-10-13","lo":14512,"hi":15341},{"d":"2024-06-10","lo":19585,"hi":20394}],
"circ":[{"d":"2024-04-24","v":17265}],
"tags":[{"name":"SMA50","d":"2024-04-23","v":17951.21},{"name":"SMA100","d":"2024-04-23","v":17387.41},{"name":"Last","d":"2024-04-23","v":17471.47},{"name":"SMA200","d":"2024-04-23","v":16289.36}],
"leg":[{"item":"Last Price","val":"17471.47"},{"item":"High on 03/21/24","val":"18464.70"},{"item":"Average","val":"14531.36"},{"item":"Low on 11/04/22","val":"10632.39"},{"item":"SMAVG (50)  on Close","val":"17951.21"},{"item":"SMAVG (100)  on Close","val":"17387.41"},{"item":"SMAVG (200)  on Close","val":"16289.36"}]
},
"resolve":{"axis":{"x":"independent","y":"independent"}},
"layer":[
{"data":{"name":"chan"},"mark":{"type":"area","color":"#f0e62a","opacity":0.15,"clip":true},
 "encoding":{"x":{"field":"d","type":"ordinal","scale":{"type":"band","paddingInner":0.3,"paddingOuter":0.15},"axis":null},
 "y":{"field":"lo","type":"quantitative","scale":{"domain":[10138,19569],"nice":false,"zero":false},"axis":null},"y2":{"field":"hi"}}},
{"data":{"name":"ohlc"},"mark":{"type":"rule","strokeWidth":1},
 "encoding":{"x":{"field":"d","type":"ordinal","axis":null},
 "y":{"field":"l","type":"quantitative","axis":{"orient":"right","values":[11000,12000,13000,14000,15000,16000,17000,18000,19000],"format":"d","labelExpr":"datum.value == 18000 ? '' : datum.label","grid":true,"gridColor":"#5e5e5e","gridDash":[1,3],"tickSize":5,"tickColor":"#cfcfcf","labelColor":"#d4d4d4","labelFont":"Liberation Sans","labelFontSize":10.5,"labelPadding":3,"labelOverlap":false,"domain":true,"domainColor":"#8a8a8a","domainWidth":1.5,"title":null}},
 "y2":{"field":"h"},
 "color":{"condition":{"test":"datum.c >= datum.o","value":"#cfcfcf"},"value":"#2a78e6"}}},
{"data":{"name":"ohlc"},"mark":{"type":"bar"},
 "encoding":{"x":{"field":"d","type":"ordinal","axis":null},
 "y":{"field":"o","type":"quantitative","axis":{"orient":"right","values":[10500,11500,12500,13500,14500,15500,16500,17500,18500,19500],"tickSize":3,"tickColor":"#9a9a9a","labels":false,"grid":false,"domain":false,"title":null}},
 "y2":{"field":"c"},
 "color":{"condition":{"test":"datum.c >= datum.o","value":"#d6d6d6"},"value":"#2a78e6"}}},
{"data":{"name":"cal"},"mark":{"type":"tick","opacity":0},
 "encoding":{"x":{"field":"d","type":"ordinal","axis":{"values":["2022-11-01","2022-12-01","2023-01-03","2023-02-01","2023-03-01","2023-04-03","2023-05-01","2023-06-01","2023-07-03","2023-08-01","2023-09-01","2023-10-02","2023-11-01","2023-12-01","2024-01-02","2024-02-01","2024-03-01","2024-04-01","2024-05-01","2024-06-03"],"bandPosition":0,"orient":"bottom","offset":3,"grid":true,"gridColor":"#5e5e5e","gridDash":[1,3],"ticks":true,"tickSize":5,"tickColor":"#8f8f8f","labels":false,"domain":true,"domainColor":"#a8a8a8","domainWidth":2,"title":null}}}},
{"data":{"name":"cal"},"mark":{"type":"tick","opacity":0},
 "encoding":{"x":{"field":"d","type":"ordinal","axis":{"values":["2022-11-15","2022-12-15","2023-01-17","2023-02-14","2023-03-16","2023-04-17","2023-05-15","2023-06-15","2023-07-17","2023-08-16","2023-09-15","2023-10-16","2023-11-15","2023-12-14","2024-01-17","2024-02-14","2024-03-14","2024-04-15","2024-05-15"],"orient":"bottom","offset":3,"grid":false,"ticks":false,"domain":false,"labelPadding":6,"labelColor":"#d4d4d4","labelFont":"Liberation Sans","labelFontSize":10.5,"labelAngle":0,"labelOverlap":false,"labelExpr":"utcFormat(toDate(datum.value), '%b')","title":null}}}},
{"data":{"name":"cal"},"mark":{"type":"tick","opacity":0},
 "encoding":{"x":{"field":"d","type":"ordinal","axis":{"values":["2022-11-23","2023-07-07","2024-03-21"],"orient":"bottom","offset":3,"grid":false,"ticks":false,"domain":false,"labelPadding":18,"labelColor":"#d4d4d4","labelFont":"Liberation Sans","labelFontSize":10.5,"labelAngle":0,"labelOverlap":false,"labelExpr":"substring(datum.value, 0, 4)","title":null}}}},
{"data":{"name":"cal"},"mark":{"type":"tick","opacity":0},
 "encoding":{"x":{"field":"d","type":"ordinal","axis":{"values":["2023-01-03","2024-01-02"],"bandPosition":0,"orient":"bottom","offset":3,"grid":false,"ticks":true,"tickSize":29,"tickColor":"#7a7a7a","labels":false,"domain":false,"title":null}}}},
{"data":{"name":"chan"},"mark":{"type":"line","color":"#f2ea2a","strokeWidth":2,"clip":true},
 "encoding":{"x":{"field":"d","type":"ordinal","axis":null},"y":{"field":"hi","type":"quantitative","axis":null}}},
{"data":{"name":"chan"},"mark":{"type":"line","color":"#f2ea2a","strokeWidth":2,"clip":true},
 "encoding":{"x":{"field":"d","type":"ordinal","axis":null},"y":{"field":"lo","type":"quantitative","axis":null}}},
{"data":{"name":"s200"},"mark":{"type":"line","color":"#f2ea2e","strokeWidth":2,"interpolate":"monotone"},
 "encoding":{"x":{"field":"d","type":"ordinal","axis":null},"y":{"field":"v","type":"quantitative","axis":null}}},
{"data":{"name":"s100"},"mark":{"type":"line","color":"#3dbd3d","strokeWidth":2,"interpolate":"monotone"},
 "encoding":{"x":{"field":"d","type":"ordinal","axis":null},"y":{"field":"v","type":"quantitative","axis":null}}},
{"data":{"name":"s50"},"mark":{"type":"line","color":"#e8179b","strokeWidth":2,"interpolate":"monotone"},
 "encoding":{"x":{"field":"d","type":"ordinal","axis":null},"y":{"field":"v","type":"quantitative","axis":null}}},
{"data":{"name":"circ"},"mark":{"type":"point","shape":"circle","filled":false,"color":"#ffffff","strokeWidth":2.5,"size":4489,"opacity":1},
 "encoding":{"x":{"field":"d","type":"ordinal","axis":null},"y":{"field":"v","type":"quantitative","axis":null}}},
{"data":{"name":"tags"},"mark":{"type":"point","filled":true,"opacity":1,"size":2209,"shape":"M-1,0L-0.87,-0.28L1,-0.28L1,0.28L-0.87,0.28Z","xOffset":119,"clip":false},
 "encoding":{"x":{"field":"d","type":"ordinal","axis":null},"y":{"field":"v","type":"quantitative","axis":null},
 "color":{"condition":[{"test":"datum.name === 'SMA50'","value":"#e8179b"},{"test":"datum.name === 'SMA100'","value":"#3dbd3d"},{"test":"datum.name === 'Last'","value":"#ffffff"}],"value":"#f2ea2e"}}},
{"data":{"name":"tags"},"transform":[{"filter":"datum.name !== 'SMA100'"}],"mark":{"type":"text","fontSize":10,"font":"Liberation Sans","align":"center","baseline":"middle","xOffset":121,"clip":false},
 "encoding":{"x":{"field":"d","type":"ordinal","axis":null},"y":{"field":"v","type":"quantitative","axis":null},
 "text":{"field":"v","type":"quantitative","format":".2f"},
 "color":{"condition":{"test":"datum.name === 'SMA50'","value":"#ffffff"},"value":"#000000"}}},
{"data":{"name":"leg"},"mark":{"type":"point","filled":true,"clip":true},
 "encoding":{"y":{"datum":0,"type":"quantitative","axis":null},
 "fill":{"field":"item","type":"nominal","scale":{"domain":["Last Price","High on 03/21/24","Average","Low on 11/04/22","SMAVG (50)  on Close","SMAVG (100)  on Close","SMAVG (200)  on Close"],"range":["#ffffff","#bdbdbd","#bdbdbd","#bdbdbd","#e8179b","#3dbd3d","#f2ea2e"]},
  "legend":{"title":null,"orient":"none","legendX":953,"legendY":480,"padding":4,"fillColor":"#000000","labelColor":"#e6e6e6","labelFont":"Liberation Sans","labelFontSize":10,"symbolSize":81,"symbolStrokeWidth":0,"symbolOpacity":1,"rowPadding":2.8,"labelOffset":5,"labelExpr":"replace(datum.label, '  ', '\u00a0 ')"}},
 "shape":{"field":"item","type":"nominal","scale":{"domain":["Last Price","High on 03/21/24","Average","Low on 11/04/22","SMAVG (50)  on Close","SMAVG (100)  on Close","SMAVG (200)  on Close"],"range":["square","M-0.75,-0.9H0.75V-0.62H0.14V0.9H-0.14V-0.62H-0.75Z","M-0.9,-0.12H-0.14V-0.55H0.14V-0.12H0.9V0.12H0.14V0.55H-0.14V0.12H-0.9Z","M-0.75,0.9H0.75V0.62H0.14V-0.9H-0.14V0.62H-0.75Z","square","square","square"]},
  "legend":{"title":null,"orient":"none","legendX":953,"legendY":480,"padding":4,"fillColor":"#000000","labelColor":"#e6e6e6","labelFont":"Liberation Sans","labelFontSize":10,"symbolSize":81,"symbolStrokeWidth":0,"symbolOpacity":1,"rowPadding":2.8,"labelOffset":5,"labelExpr":"replace(datum.label, '  ', '\u00a0 ')"}},
 "stroke":{"field":"val","type":"nominal","scale":{"domain":["17471.47","18464.70","14531.36","10632.39","17951.21","17387.41","16289.36"],"range":["#000000","#000000","#000000","#000000","#000000","#000000","#000000"]},
  "legend":{"title":null,"orient":"none","legendX":1082,"legendY":482,"padding":2,"fillColor":"#000000","labelColor":"#e6e6e6","labelFont":"Liberation Sans","labelFontSize":10,"symbolSize":1,"symbolOpacity":0,"symbolStrokeWidth":0,"rowPadding":2.8,"labelOffset":0}}}}
]
}
